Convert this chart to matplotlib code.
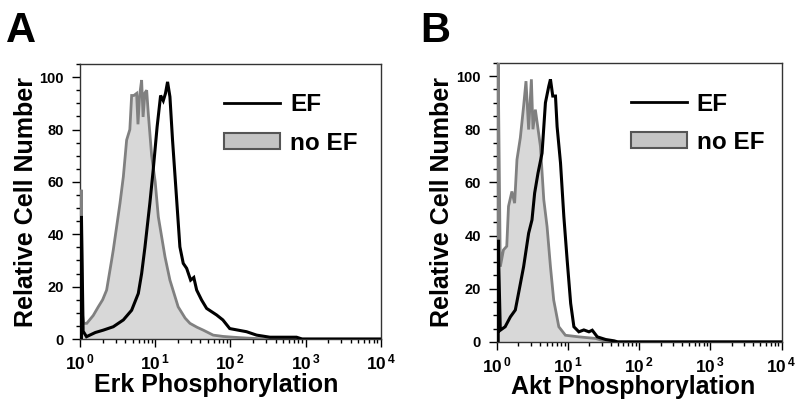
import matplotlib
matplotlib.use("Agg")
import matplotlib.pyplot as plt
from matplotlib.lines import Line2D
from matplotlib.patches import Patch
from matplotlib.ticker import MultipleLocator, LogLocator, NullFormatter

plt.rcParams['font.family'] = ['Liberation Sans', 'DejaVu Sans']
plt.rcParams['font.weight'] = 'bold'
plt.rcParams['mathtext.fontset'] = 'custom'
plt.rcParams['mathtext.rm'] = 'Liberation Sans:bold'
plt.rcParams['mathtext.bf'] = 'Liberation Sans:bold'

# ---------------- data ----------------
erk_noef_x = [1.04, 1.04, 1.07, 1.12, 1.23, 1.5, 1.75, 2.0, 2.26, 2.63, 2.77, 3.07, 3.4, 3.77,
              4.17, 4.6, 4.86, 5.2, 5.66, 5.9, 6.2, 6.6, 6.9, 7.3, 7.7, 8.1, 8.97, 10.0, 11.0,
              13.5, 15.7, 20.2, 25, 29, 36, 43.6, 59, 80, 109, 160, 222, 300, 10000]
erk_noef_y = [0, 57, 10, 6, 6, 9, 12.3, 15, 18.7, 30, 34, 42.9, 51.8, 62,
              76, 80, 93, 93, 93.8, 82, 93, 98.9, 84.8, 94, 95, 86, 70, 60, 46.7,
              31.4, 22.5, 12.3, 8, 6, 4.5, 3.4, 1.5, 1.0, 0.7, 0.4, 0.2, 0, 0]

erk_ef_x = [1.045, 1.045, 1.1, 1.22, 1.6, 2.04, 2.77, 3.77, 4.86, 5.96, 6.6, 7.3, 8.5, 9.4, 10.6,
            11.8, 12.8, 13.7, 14.6, 15.7, 17.0, 18.9, 21.3, 23.6, 26.2, 29.6, 32.6, 35.6,
            41.4, 48.3, 65.5, 79.4, 98, 164, 223, 335, 758, 900, 10000]
erk_ef_y = [0, 47, 3, 0.9, 2.5, 3.4, 4.7, 7.3, 11, 17.4, 25, 35, 52, 64.5, 81,
            93, 91, 93.8, 98.2, 92.5, 76, 56.9, 35.2, 28.9, 27, 22.5, 23.5, 18.7,
            14.9, 11.7, 9.2, 7.3, 4, 2.8, 1.5, 0.7, 0.7, 0, 0]

akt_noef_x = [1.04, 1.04, 1.12, 1.24, 1.38, 1.46, 1.63, 1.78, 1.92, 2.14, 2.38, 2.57, 2.8,
              3.06, 3.22, 3.48, 4.1, 4.57, 5.08, 5.67, 6.3, 7.43, 9.2, 14.2, 24.5, 35, 10000]
akt_noef_y = [0, 110, 28.3, 34.6, 36, 51, 56.6, 52.2, 68.6, 76.8, 88.7, 98.1, 79.9,
              98.8, 80, 87.4, 73.6, 53.5, 43.4, 28.3, 15.7, 5.7, 2.5, 1.9, 1.3, 0, 0]

akt_ef_x = [1.045, 1.045, 1.12, 1.31, 1.55, 1.82, 2.02, 2.38, 2.8, 3.12, 3.4, 3.79, 4.32, 4.82,
            5.37, 5.67, 6.11, 6.67, 7.03, 7.85, 8.74, 9.73, 10.9, 12.1, 14.2, 16.7, 19.7,
            21.9, 25.8, 33.8, 44.4, 50, 10000]
akt_ef_y = [0, 38.4, 4.4, 5.7, 9.4, 12, 18.3, 28.3, 40.9, 45.9, 56, 63.5, 71, 90,
            96.2, 98.8, 92.5, 92.5, 81, 67.3, 47.2, 30.8, 14.5, 5.7, 3.8, 4.5, 3.8,
            4.4, 1.9, 0.9, 0.4, 0, 0]

x_ticks = [1, 10, 100, 1000, 10000]
x_tick_labels = [r'$\mathbf{10^{\,0}}$', r'$\mathbf{10^{\,1}}$', r'$\mathbf{10^{\,2}}$',
                 r'$\mathbf{10^{\,3}}$', r'$\mathbf{10^{\,4}}$']
y_ticks = [0, 20, 40, 60, 80, 100]
panel_letters = ['A', 'B']
x_labels = ['Erk Phosphorylation', 'Akt Phosphorylation']
y_label = 'Relative Cell Number'
legend_labels = ['EF', 'no EF']

# ---------------- figure ----------------
fig = plt.figure(figsize=(8.0, 4.08), dpi=100)
axA = fig.add_axes([0.100, 0.169, 0.376, 0.674])
axB = fig.add_axes([0.621, 0.162, 0.356, 0.684])

GRAY_LINE = '#808080'
GRAY_FILL = '#d8d8d8'

panels = [
    (axA, erk_noef_x, erk_noef_y, erk_ef_x, erk_ef_y, x_labels[0], (0.452, -0.125), -0.14, 0.478),
    (axB, akt_noef_x, akt_noef_y, akt_ef_x, akt_ef_y, x_labels[1], (0.48, -0.118), -0.15, 0.47),
]

for ax, nx, ny, ex, ey, xl, xlc, ylx, legx in panels:
    ax.fill_between(nx, 0, ny, color=GRAY_FILL, linewidth=0, zorder=1)
    ax.plot(nx, ny, color=GRAY_LINE, lw=2.0, zorder=2.6, solid_joinstyle='miter')
    ax.plot(ex, ey, color='black', lw=2.2, zorder=2.7, solid_joinstyle='miter')
    ax.set_xscale('log')
    ax.set_xlim(1, 1e4)
    ax.set_ylim(0, 105)
    ax.set_xticks(x_ticks)
    ax.set_xticklabels(x_tick_labels)
    ax.xaxis.set_minor_locator(LogLocator(base=10, subs=range(2, 10), numticks=20))
    ax.xaxis.set_minor_formatter(NullFormatter())
    ax.set_yticks(y_ticks)
    ax.yaxis.set_minor_locator(MultipleLocator(5))
    ax.tick_params(axis='both', which='major', length=5.5, width=1.0, colors='black')
    ax.tick_params(axis='both', which='minor', length=3.0, width=1.0)
    ax.tick_params(axis='x', which='major', pad=4, labelsize=12.5)
    ax.tick_params(axis='y', which='major', pad=6, labelsize=10.5)
    for lab in ax.get_yticklabels():
        lab.set_fontweight('bold')
    for sp in ax.spines.values():
        sp.set_linewidth(1.0)
        sp.set_color('#333333')
    ax.set_xlabel(xl, fontsize=18, fontweight='bold')
    ax.xaxis.set_label_coords(*xlc)
    ax.set_ylabel(y_label, fontsize=18, fontweight='bold')
    ax.yaxis.set_label_coords(ylx, 0.5)

    handles = [Line2D([0], [0], color='black', lw=2.0),
               Patch(facecolor='#c4c4c4', edgecolor='#555555', linewidth=1.5)]
    ax.legend(handles, legend_labels, loc='upper left', bbox_to_anchor=(legx, 0.893),
              frameon=False, prop={'weight': 'bold', 'size': 17.5},
              handlelength=2.3, handleheight=0.66, handletextpad=0.42,
              labelspacing=0.62, borderpad=0, borderaxespad=0)

fig.text(0.008, 0.972, panel_letters[0], fontsize=30, fontweight='bold', va='top', ha='left')
fig.text(0.525, 0.972, panel_letters[1], fontsize=30, fontweight='bold', va='top', ha='left')

fig.savefig('out.png', dpi=100)
